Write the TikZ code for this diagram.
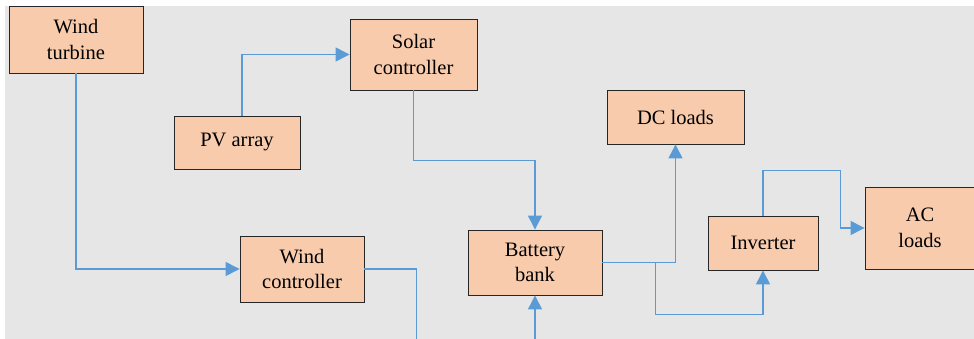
\documentclass[tikz,border=0pt]{standalone}
\usepackage{fontspec}
\setmainfont{Liberation Serif}
\usetikzlibrary{arrows.meta,calc}

\definecolor{boxfill}{HTML}{F8CBAD}
\definecolor{panel}{HTML}{E6E6E6}
\definecolor{wire}{HTML}{5B9BD5}

\begin{document}
\begin{tikzpicture}[
  x=1pt,y=-1pt,
  font=\rmfamily\fontsize{20.5}{25.5}\selectfont,
  >={Triangle[length=14pt,width=14pt]},
  blk/.style={draw=black!85,line width=0.9pt,fill=boxfill,align=center,inner sep=0pt},
  flow/.style={->,line width=1.3pt,wire},
]
\clip (0,0) rectangle (974,339);
\fill[white] (0,0) rectangle (974,339);
\fill[panel] (5,6) rectangle (974,339);

% ===== sources =====
\node[blk,minimum width=134,minimum height=67] (wt) at (76,39.5) {Wind\\turbine};
\node[blk,minimum width=126,minimum height=53] (pv) at (237,142.5) {PV array};
\node[blk,minimum width=127,minimum height=71] (sc) at (413.5,54.5) {Solar\\controller};
\node[blk,minimum width=124,minimum height=66] (wc) at (302,269) {Wind\\controller};

% ===== storage and loads =====
\node[blk,minimum width=134,minimum height=65] (bb) at (535,262.5) {Battery\\bank};
\node[blk,minimum width=137,minimum height=54] (dc) at (675.5,117) {DC loads};
\node[blk,minimum width=110,minimum height=54] (inv) at (763,243) {Inverter};
\node[blk,minimum width=110,minimum height=82] (ac) at (920,228) {AC\\loads};

% ===== connectors =====
\draw[flow] (wt.south) |- (wc.west);
\draw[flow] ([xshift=5]pv.north) |- (sc.west);
\draw[flow] (sc.south) -- ++(0,70) -| (bb.north);
\draw[flow] (wc.east) -- ++(52,0) -- ++(0,90) -| (bb.south);
\draw[flow] (bb.east) -| (dc.south);
\draw[flow] (bb.east) -- ++(53,0) -- ++(0,52) -| (inv.south);
\draw[flow] (inv.north) -- ++(0,-45) -| ($(ac.west)+(-24,0)$) -- (ac.west);
\end{tikzpicture}
\end{document}
